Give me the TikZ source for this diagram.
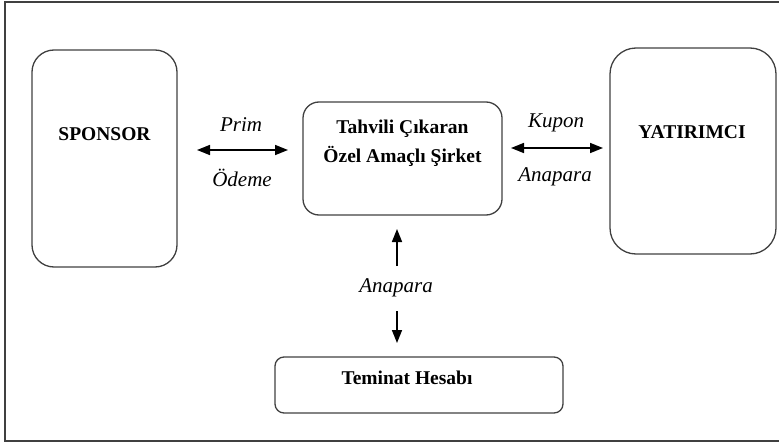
\documentclass[tikz,border=0pt]{standalone}
\usepackage{fontspec}
\setmainfont{Liberation Serif}
\usepackage{tikz}
\usetikzlibrary{arrows.meta,positioning}

\begin{document}
\begin{tikzpicture}[x=1pt, y=-1pt, >={Triangle[length=13pt,width=10pt]}]
\tikzstyle{box}=[draw=black!75, line width=1.3pt, inner sep=0pt]
\tikzstyle{ttl}=[font=\fontsize{19.5}{29}\selectfont\bfseries, align=center, inner sep=0pt]
\tikzstyle{lbl}=[font=\fontsize{21}{24}\selectfont\itshape, inner sep=0pt]
\tikzstyle{flow}=[<->, line width=1.6pt]
\useasboundingbox (0,0) rectangle (779,444);

% frame
\draw[black!75, line width=1.8pt] (780,2) -- (5,2) -- (5,441) -- (780,441);

% boxes
\node[box, rounded corners=22pt, minimum width=145pt, minimum height=217pt] (sponsor) at (104.5,158.5) {};
\node[box, rounded corners=16pt, minimum width=199pt, minimum height=113pt] (spv) at (402.5,158.5) {};
\node[box, rounded corners=26pt, minimum width=166pt, minimum height=206pt] (yat) at (693,151) {};
\node[box, rounded corners=9pt, minimum width=288pt, minimum height=56pt] (tem) at (419,385) {};

\node[ttl] (sponsortxt) at (104.5,134.5) {SPONSOR};
\node[ttl] (spvtxt) at (402.5,143) {Tahvili Çıkaran\\Özel Amaçlı Şirket};
\node[ttl] (yattxt) at (692,132) {YATIRIMCI};
\node[ttl] (temtxt) at (407,378) {Teminat Hesabı};

% flows
\coordinate (p1) at (197,150);
\coordinate (p2) at (288,150);
\coordinate (k1) at (511,148);
\coordinate (k2) at (603,148);
\draw[flow] (p1) -- (p2);
\draw[flow] (k1) -- (k2);
\node[lbl] (prim) at (241,125) {Prim};
\node[lbl] (odeme) at (242,178) {Ödeme};
\node[lbl] (kupon) at (556,123) {Kupon};
\node[lbl] (anap1) at (555,177) {Anapara};

\node[lbl] (anap2) at (396,288) {Anapara};
\coordinate (u1) at (397,266);
\coordinate (u2) at (397,229);
\coordinate (d1) at (397,311);
\coordinate (d2) at (397,343);
\draw[->, line width=1.6pt] (u1) -- (u2);
\draw[->, line width=1.6pt] (d1) -- (d2);
\end{tikzpicture}
\end{document}
